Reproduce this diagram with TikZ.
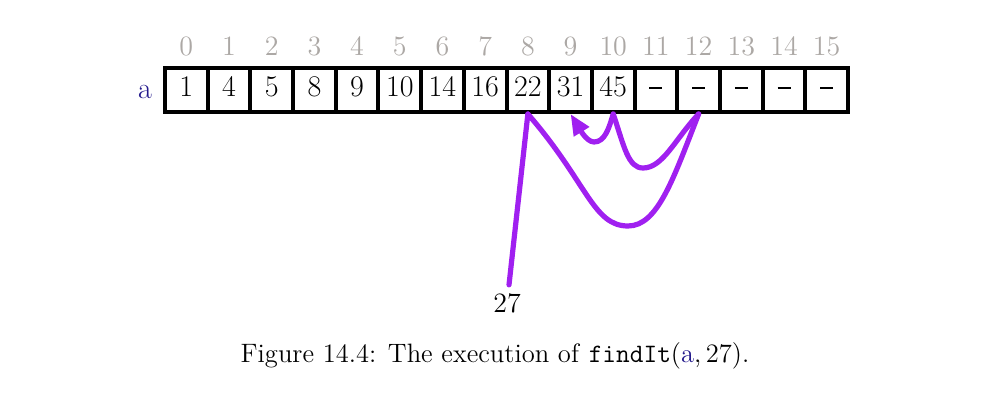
\documentclass[tikz,border=0pt]{standalone}
\usetikzlibrary{arrows.meta}
\definecolor{idxgray}{RGB}{172,168,165}
\definecolor{arrname}{RGB}{35,25,140}
\definecolor{trace}{RGB}{160,32,240}
\newcommand{\emptyslot}{\rule[3.8pt]{6.5pt}{0.9pt}}
\begin{document}
\begin{tikzpicture}[x=0.5pt,y=-0.5pt,
  cell/.style={draw=black,line width=2pt,minimum width=21.35pt,minimum height=22pt,inner sep=0pt,text height=0.65em,text depth=0pt,font=\fontsize{15}{17}\selectfont},
  idx/.style={text=idxgray,font=\fontsize{14}{16}\selectfont,inner sep=0pt},
  tracepath/.style={draw=trace,line width=2.6pt,line cap=round,line join=round}]
\useasboundingbox (0,0) rectangle (1003,408);
\foreach \v [count=\i from 0] in {1,4,5,8,9,10,14,16,22,31,45,\emptyslot,\emptyslot,\emptyslot,\emptyslot,\emptyslot}{
  \node[cell] (c\i) at ({165+42.69*(\i+0.5)},90) {\v};
  \node[idx] (i\i) at ({165+42.69*(\i+0.5)},46) {\i};
}
\node[text=arrname,font=\fontsize{15}{17}\selectfont] (aname) at (145,92) {a};
\node[font=\fontsize{14}{16}\selectfont,inner sep=4pt] (n27) at (507,303) {27};
\coordinate (b1) at (628,226);
\coordinate (b2) at (643,168);
\coordinate (b3) at (594,142);
\draw[tracepath] (n27) -- (c8.south);
\draw[tracepath] (c8.south) .. controls (587,182) and (593,226) .. (b1)
  .. controls (658,226) and (673.5,178) .. (c12.south);
\draw[tracepath] (c12.south) .. controls (675,139) and (663,168) .. (b2)
  .. controls (628,168) and (624,146) .. (c10.south);
\draw[tracepath,-{Triangle[length=10.5pt,width=8.5pt]}] (c10.south) .. controls (609,128) and (605,142) .. (b3)
  .. controls (586,142) and (578,126) .. (c9.south);
\node[font=\fontsize{13.3}{15}\selectfont] (cap) at (495,356) {Figure 14.4: The execution of \texttt{findIt}(\textcolor{arrname}{a},\,27).};
\end{tikzpicture}
\end{document}
